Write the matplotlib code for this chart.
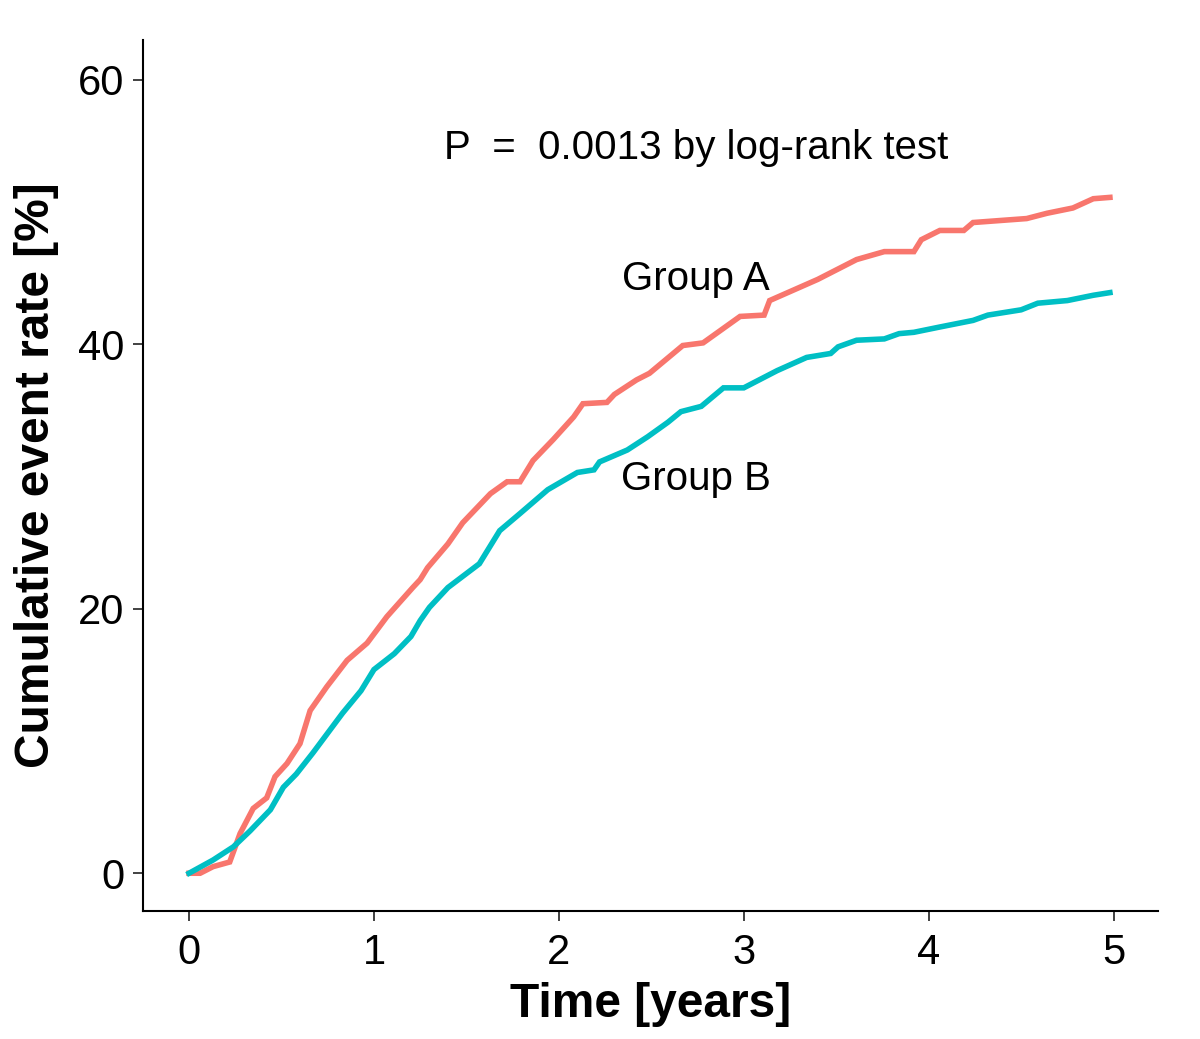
import matplotlib
matplotlib.use("Agg")
import matplotlib.pyplot as plt

# Group A (red) cumulative event rate [%]
time_a = [0, 0.06, 0.13, 0.22, 0.276, 0.347, 0.42, 0.465, 0.53, 0.60, 0.655, 0.745, 0.855, 0.963,
          1.07, 1.21, 1.25, 1.29, 1.40, 1.48, 1.63, 1.72, 1.79, 1.86, 1.97, 2.08, 2.13, 2.26, 2.30,
          2.42, 2.49, 2.67, 2.78, 2.98, 3.11, 3.14, 3.40, 3.61, 3.76, 3.92, 3.96, 4.06, 4.19, 4.24,
          4.53, 4.64, 4.78, 4.89, 4.98]
rate_a = [0, 0, 0.5, 0.85, 3.0, 4.9, 5.7, 7.3, 8.3, 9.8, 12.3, 14.1, 16.1, 17.4,
          19.4, 21.6, 22.2, 23.1, 24.9, 26.5, 28.7, 29.6, 29.6, 31.2, 32.8, 34.5, 35.5, 35.6, 36.2,
          37.3, 37.8, 39.9, 40.1, 42.1, 42.2, 43.3, 44.9, 46.4, 47.0, 47.0, 47.9, 48.6, 48.6, 49.2,
          49.5, 49.9, 50.3, 51.0, 51.1]

# Group B (teal)
time_b = [0, 0.13, 0.24, 0.33, 0.44, 0.51, 0.58, 0.67, 0.75, 0.83, 0.93, 1.0, 1.11, 1.20, 1.25,
          1.30, 1.40, 1.57, 1.68, 1.79, 1.94, 2.10, 2.19, 2.22, 2.37, 2.48, 2.59, 2.66, 2.77, 2.89,
          3.0, 3.18, 3.34, 3.47, 3.51, 3.61, 3.76, 3.84, 3.92, 4.06, 4.24, 4.32, 4.50, 4.59, 4.75,
          4.89, 4.98]
rate_b = [0, 1.0, 2.0, 3.2, 4.8, 6.5, 7.5, 9.1, 10.6, 12.1, 13.8, 15.4, 16.6, 17.9, 19.1,
          20.1, 21.6, 23.4, 25.9, 27.2, 29.0, 30.3, 30.5, 31.1, 32.0, 33.0, 34.1, 34.9, 35.3, 36.7,
          36.7, 38.0, 39.0, 39.3, 39.8, 40.3, 40.4, 40.8, 40.9, 41.3, 41.8, 42.2, 42.6, 43.1, 43.3,
          43.7, 43.9]

x_ticks = [0, 1, 2, 3, 4, 5]
y_ticks = [0, 20, 40, 60]

plt.rcParams['font.family'] = ['Liberation Sans', 'DejaVu Sans']

fig = plt.figure(figsize=(12, 10.39), dpi=100)
ax = fig.add_axes([0.119, 0.123, 0.846, 0.8385])

ax.plot(time_a, rate_a, color='#F8766D', lw=4.0, solid_joinstyle='miter')
ax.plot(time_b, rate_b, color='#00BFC4', lw=4.0, solid_joinstyle='miter')

ax.set_xlim(-0.25, 5.24)
ax.set_ylim(-2.87, 63.0)
ax.set_xticks(x_ticks)
ax.set_yticks(y_ticks)
ax.tick_params(axis='both', labelsize=30, length=7, width=1.3, color='#333333', pad=6)
ax.tick_params(axis='x', pad=9)
for s in ['top', 'right']:
    ax.spines[s].set_visible(False)
for s in ['left', 'bottom']:
    ax.spines[s].set_linewidth(1.5)

ax.set_xlabel('Time [years]', fontsize=34.5, fontweight='bold', labelpad=6)
ax.set_ylabel('Cumulative event rate [%]', fontsize=34.5, fontweight='bold', labelpad=14)

ax.text(2.74, 54.8, 'P  =  0.0013 by log-rank test', fontsize=29, ha='center', va='center')
ax.text(2.74, 44.9, 'Group A', fontsize=29, ha='center', va='center')
ax.text(2.74, 29.8, 'Group B', fontsize=29, ha='center', va='center')

fig.savefig('out.png', dpi=100)
